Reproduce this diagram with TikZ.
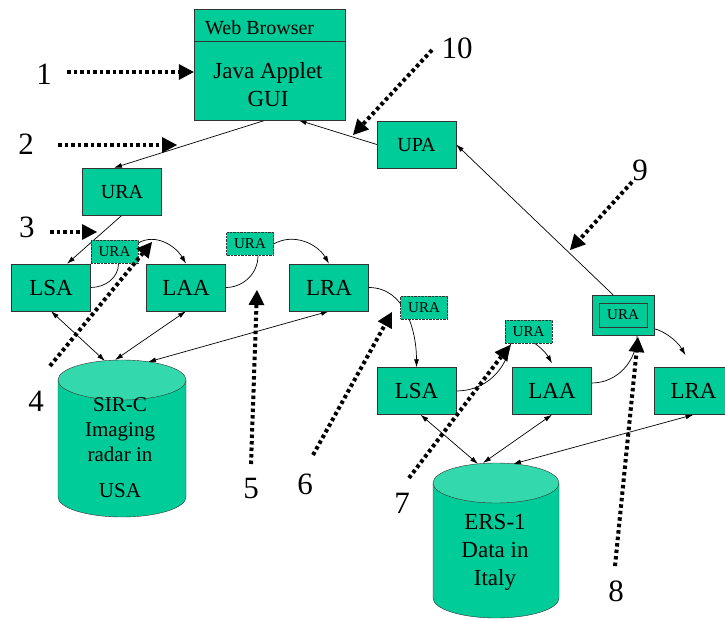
\documentclass[tikz,border=0pt]{standalone}
\usepackage{fontspec}
\setmainfont{Liberation Serif}
\usetikzlibrary{arrows.meta,positioning}
\pgfdeclarelayer{background}
\pgfsetlayers{background,main}
\definecolor{agentgreen}{RGB}{0,204,153}
\definecolor{diskgreen}{RGB}{51,216,172}
\tikzset{
    box/.style={draw=black!80,fill=agentgreen,minimum width=79pt,minimum height=47pt,inner sep=0pt,font=\fontsize{23}{27}\selectfont},
    tag/.style={draw=black!80,densely dotted,fill=agentgreen,minimum width=47pt,minimum height=23pt,inner sep=0pt,font=\fontsize{15}{18}\selectfont},
    num/.style={inner sep=0pt,font=\fontsize{31}{36}\selectfont},
    link/.style={-{Latex[length=8pt,width=5pt]},line width=0.7pt},
    dlink/.style={{Latex[length=8pt,width=5pt]}-{Latex[length=8pt,width=5pt]},line width=0.7pt},
    dotarrow/.style={line width=4pt,dash pattern=on 3.5pt off 3pt,-{Triangle[length=15pt,width=16pt,line width=0pt]}}
}

\begin{document}
\begin{tikzpicture}[x=1pt,y=-1pt]
    \useasboundingbox (0,0) rectangle (725,620);
    % browser with the applet
    \node[box,minimum width=151pt,minimum height=111pt] (browser) at (269.5,64.5) {};
    \draw[black!80] ([yshift=-32pt]browser.north west) -- ([yshift=-32pt]browser.north east);
    \node[anchor=west,inner sep=0pt,font=\fontsize{20}{24}\selectfont] (webtitle) at (205,28) {Web Browser};
    \node[align=center,inner sep=0pt,font=\fontsize{23}{28}\selectfont] (applet) at (268,85) {Java Applet\\GUI};
    % agents
    \node[box,font=\fontsize{20}{24}\selectfont] (uraTop) at (122,191.5) {URA};
    \node[box,font=\fontsize{20}{24}\selectfont] (upa) at (416.5,144.5) {UPA};
    \node[box] (lsaA) at (51,287.5) {LSA};
    \node[box] (laaA) at (186,287.5) {LAA};
    \node[box] (lraA) at (329,287.5) {LRA};
    \node[box] (lsaB) at (416.5,391) {LSA};
    \node[box] (laaB) at (552,391) {LAA};
    \node[box] (lraB) at (693.5,391) {LRA};
    % migrating URA
    \node[tag] (uraA) at (114.5,252) {URA};
    \node[tag] (uraB) at (250,244) {URA};
    \node[tag] (uraC) at (424,307.5) {URA};
    \node[tag] (uraD) at (528.5,331.5) {URA};
    \node[box,minimum width=62pt,minimum height=40pt] (uraE) at (623,315) {};
    \node[draw=black!80,minimum width=48pt,minimum height=24pt,inner sep=0pt,font=\fontsize{15}{18}\selectfont] (uraEin) at (uraE) {URA};
    % data stores
    \filldraw[draw=black!80,fill=agentgreen] (58,380) -- (58,497) .. controls (58,508) and (86.6,517) .. (122,517) .. controls (157.4,517) and (186,508) .. (186,497) -- (186,380);
    \filldraw[draw=black!80,fill=diskgreen] (122,380) ellipse [x radius=64,y radius=20];
    \node[align=center,inner sep=0pt,font=\fontsize{21}{25}\selectfont] (sirtext) at (120,448) {SIR-C\\Imaging\\radar in\\[11pt]USA};
    \filldraw[draw=black!80,fill=agentgreen] (433,483) -- (433,598) .. controls (433,609) and (461.2,618) .. (496,618) .. controls (530.8,618) and (559,609) .. (559,598) -- (559,483);
    \filldraw[draw=black!80,fill=diskgreen] (496,483) ellipse [x radius=63,y radius=20];
    \node[align=center,inner sep=0pt,font=\fontsize{23}{28}\selectfont] (erstext) at (495,552) {ERS-1\\Data in\\Italy};
    \coordinate (sirL) at (105,361);
    \coordinate (sirM) at (115,360);
    \coordinate (sirR) at (148,362);
    \coordinate (ersL) at (478,464);
    \coordinate (ersM) at (483,463);
    \coordinate (ersR) at (513,464);
    % connectors
    \begin{pgfonlayer}{background}
        \draw[link] ([xshift=-4pt]browser.south) -- ([xshift=-8pt]uraTop.north);
        \draw[link] (upa.west) -- ([xshift=29pt]browser.south);
        \draw[link] ([xshift=-10pt]uraE.north) -- (upa.east);
        \draw[link] (uraTop.south) -- ([xshift=16pt]lsaA.north);
        \draw[line width=0.7pt] (lsaA.east) to[out=0,in=-90] ([xshift=4pt]uraA.south);
        \draw[link] ([yshift=9pt]uraA.east) to[out=30,in=120] (laaA.north);
        \draw[line width=0.7pt] (laaA.east) to[out=0,in=-90] ([xshift=8pt]uraB.south);
        \draw[link] (uraB.east) to[out=30,in=120] (lraA.north);
        \draw[link] (lraA.east) to[out=0,in=90] (lsaB.north);
        \draw[line width=0.7pt] (lsaB.east) to[out=0,in=-100] ([xshift=6pt]uraD.south west);
        \draw[link] ([xshift=6pt]uraD.south west) to[out=70,in=120] ([yshift=4pt]laaB.north);
        \draw[line width=0.7pt] ([yshift=8pt]laaB.east) to[out=0,in=-90] ([xshift=14pt]uraE.south);
        \draw[link] ([xshift=14pt]uraE.south) to[out=60,in=120] ([xshift=-8pt,yshift=12pt]lraB.north);
        \draw[dlink] (lsaA.south) -- (sirL);
        \draw[dlink] (laaA.south) -- (sirM);
        \draw[dlink] (lraA.south) -- (sirR);
        \draw[dlink] ([xshift=4pt]lsaB.south) -- (ersL);
        \draw[dlink] (laaB.south) -- (ersM);
        \draw[dlink] (lraB.south) -- (ersR);
    \end{pgfonlayer}
    % numbered steps
    \foreach \k/\x/\y in {1/44/74,2/26/144,3/27/227,4/36/401,5/251/488,6/305/484,7/402/503,8/616/591,9/640/170,10/457/48} {
        \node[num] (n\k) at (\x,\y) {\k};
    }
    \coordinate (s1) at (67,72);     \coordinate (t1) at (browser.west |- s1);
    \coordinate (s2) at (58,145);    \coordinate (t2) at (177,145);
    \coordinate (s3) at (50,232);    \coordinate (t3) at (97,232);
    \coordinate (s4) at (50,366);    \coordinate (t4) at (152,242);
    \coordinate (s5) at (251,464);   \coordinate (t5) at (257,290);
    \coordinate (s6) at (313,455);   \coordinate (t6) at (392,312);
    \coordinate (s7) at (409,478);   \coordinate (t7) at (510,345);
    \coordinate (s8) at (615,566);   \coordinate (t8) at (638,337);
    \coordinate (s9) at (632,182);   \coordinate (t9) at (570,250);
    \coordinate (s10) at (432,50);   \coordinate (t10) at (353,135);
    \foreach \k in {1,...,10} {
        \draw[dotarrow] (s\k) -- (t\k);
    }
\end{tikzpicture}
\end{document}
